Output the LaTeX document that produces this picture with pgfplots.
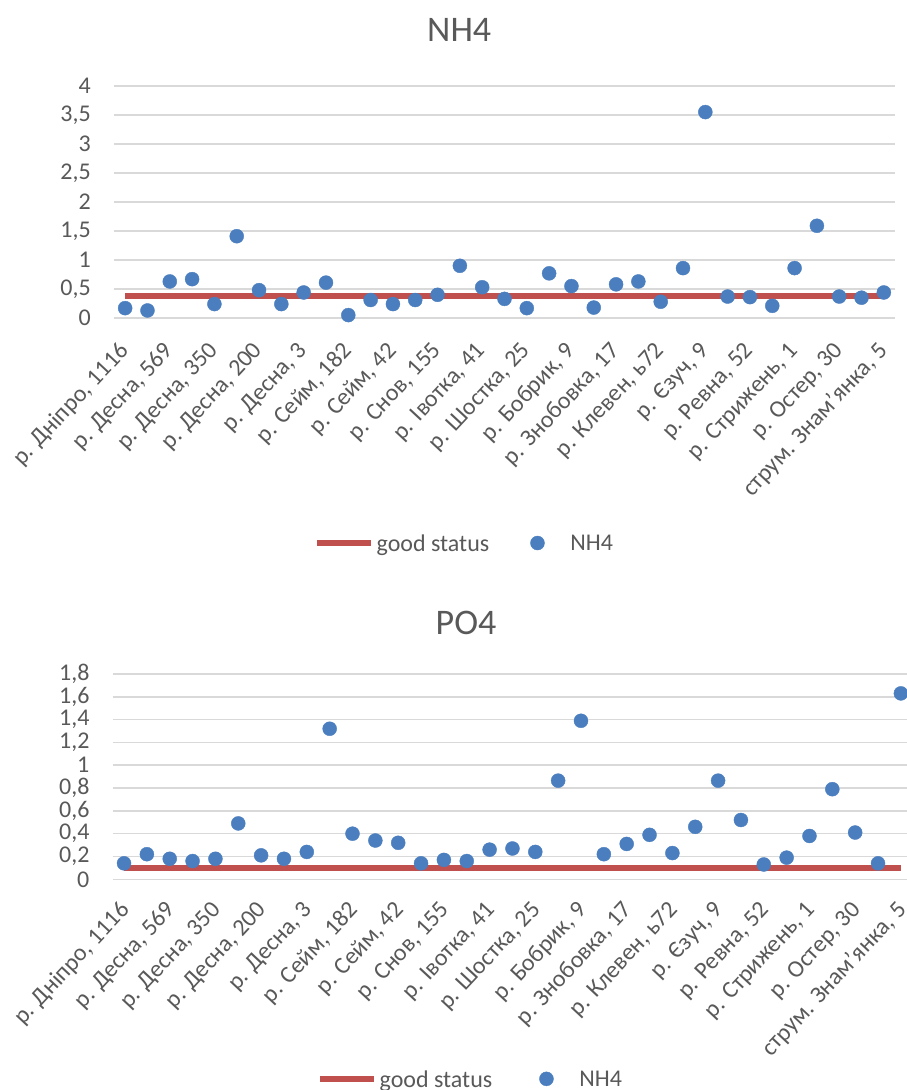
\documentclass[border=0pt]{standalone}
\usepackage{pgfplots}
\pgfplotsset{compat=1.18}
\usepackage{pgfplotstable}
\usepackage{fontspec}
\setmainfont{Carlito}
\definecolor{dotblue}{HTML}{4A7EBF}
\definecolor{goodred}{HTML}{C0504D}
\definecolor{gridgrey}{HTML}{D9D9D9}
\definecolor{txtgrey}{HTML}{595959}
\newcommand\lbl{\fontsize{24}{28}\selectfont}
\newcommand\xlbl{\fontsize{24}{28}\selectfont}

\pgfplotstableread{
x nh4 po4 gn gp
0 0.17 0.14 0.38 0.1
1 0.13 0.22 0.38 0.1
2 0.63 0.18 0.38 0.1
3 0.67 0.16 0.38 0.1
4 0.24 0.18 0.38 0.1
5 1.41 0.49 0.38 0.1
6 0.48 0.21 0.38 0.1
7 0.24 0.18 0.38 0.1
8 0.44 0.24 0.38 0.1
9 0.61 1.32 0.38 0.1
10 0.05 0.40 0.38 0.1
11 0.31 0.34 0.38 0.1
12 0.24 0.32 0.38 0.1
13 0.31 0.14 0.38 0.1
14 0.40 0.17 0.38 0.1
15 0.90 0.16 0.38 0.1
16 0.53 0.26 0.38 0.1
17 0.33 0.27 0.38 0.1
18 0.17 0.24 0.38 0.1
19 0.77 0.865 0.38 0.1
20 0.55 1.39 0.38 0.1
21 0.18 0.22 0.38 0.1
22 0.58 0.31 0.38 0.1
23 0.63 0.39 0.38 0.1
24 0.28 0.23 0.38 0.1
25 0.86 0.46 0.38 0.1
26 3.55 0.865 0.38 0.1
27 0.37 0.52 0.38 0.1
28 0.36 0.13 0.38 0.1
29 0.21 0.19 0.38 0.1
30 0.86 0.38 0.38 0.1
31 1.59 0.79 0.38 0.1
32 0.37 0.41 0.38 0.1
33 0.35 0.14 0.38 0.1
34 0.44 1.63 0.38 0.1
}\datatable

\pgfplotsset{
  excelstyle/.style={
    scale only axis,
    clip=false,
    xmin=-0.5, xmax=34.5,
    ymin=0,
    axis line style={draw=none},
    major tick style={draw=none},
    minor tick style={draw=none},
    ymajorgrids,
    grid style={gridgrey, line width=1.5pt},
    xtick={0,2,...,34},
    xticklabels={{р. Дніпро, 1116},{р. Десна, 569},{р. Десна, 350},{р. Десна, 200},{р. Десна, 3},{р. Сейм, 182},{р. Сейм, 42},{р. Снов, 155},{р. Івотка, 41},{р. Шостка, 25},{р. Бобрик, 9},{р. Знобовка, 17},{р. Клевен, ь72},{р. Єзуч, 9},{р. Ревна, 52},{р. Стрижень, 1},{р. Остер, 30},{струм. Знам’янка, 5}},
    yticklabel style={font=\lbl, text=txtgrey, inner sep=0pt, anchor=east, xshift=-23pt,
      /pgf/number format/.cd, use comma, fixed, precision=1, assume math mode=true},
    legend columns=2,
    legend style={draw=none, fill=none, font=\lbl, text=txtgrey, inner sep=0pt,
      nodes={inner sep=0pt, text depth=0pt}, cells={anchor=west},
      /tikz/every odd column/.append style={column sep=3pt}},
    title style={anchor=center, inner sep=0pt, font=\fontsize{36}{40}\selectfont, text=txtgrey},
  },
  goodline/.style={goodred, line width=5.5pt, no marks,
    legend image code/.code={\draw[goodred, line width=5.5pt] (0pt,0pt) -- (54pt,0pt);}},
  dots/.style={color=dotblue, only marks, mark=*, mark size=7pt, mark options={draw=dotblue, fill=dotblue},
    legend image code/.code={\path[draw=none, fill=none] (0pt,-7pt) rectangle (37pt,7pt); \fill[dotblue] (7pt,0pt) circle (7pt);}},
}

\begin{document}
\begin{tikzpicture}
\useasboundingbox (0pt,0pt) rectangle (907pt,1090pt);
\begin{axis}[excelstyle,
  at={(114pt,772pt)}, anchor=south west,
  width=781pt, height=232pt,
  ymax=4, ytick={0,0.5,1,1.5,2,2.5,3,3.5,4},
  xticklabel style={xshift=0pt, yshift=-29pt, rotate=47, anchor=east, inner sep=0pt, font=\xlbl, text=txtgrey},
  title={NH4},
  title style={at={(axis description cs:0.442,1.217)}},
  legend style={at={(axis description cs:0.256,-0.97)}, anchor=west,
    /tikz/every even column/.append style={column sep=41pt}},
]
\addplot[goodline] table[x=x, y=gn] {\datatable};
\addlegendentry{good status}
\addplot[dots] table[x=x, y=nh4] {\datatable};
\addlegendentry{NH4}
\end{axis}

\begin{axis}[excelstyle,
  at={(112.6pt,210.7pt)}, anchor=south west,
  width=799.7pt, height=205.3pt,
  ymax=1.8, ytick={0,0.2,0.4,0.6,0.8,1,1.2,1.4,1.6,1.8},
  xticklabel style={xshift=2pt, yshift=-27pt, rotate=47, anchor=east, inner sep=0pt, font=\xlbl, text=txtgrey},
  title={PO4},
  title style={at={(axis description cs:0.442,1.219)}},
  legend style={at={(axis description cs:0.2555,-0.972)}, anchor=west,
    /tikz/every even column/.append style={column sep=47pt}},
]
\addplot[goodline] table[x=x, y=gp] {\datatable};
\addlegendentry{good status}
\addplot[dots] table[x=x, y=po4] {\datatable};
\addlegendentry{NH4}
\end{axis}
\end{tikzpicture}
\end{document}
